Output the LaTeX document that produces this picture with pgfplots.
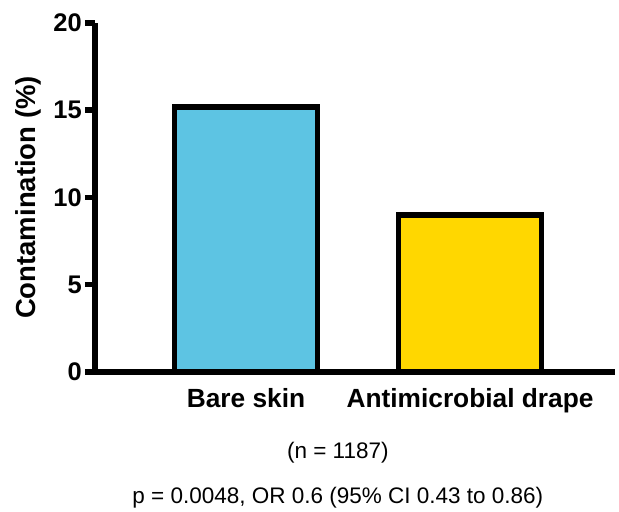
\documentclass[border=0pt]{standalone}
\usepackage{fontspec}
\setmainfont{Liberation Sans}
\usepackage{pgfplots}
\pgfplotsset{compat=1.18}
\definecolor{skinblue}{RGB}{93,196,227}
\definecolor{drapeyellow}{RGB}{255,215,0}
\begin{document}
\begin{tikzpicture}
\begin{axis}[
  scale only axis,
  width=520pt, height=349pt,
  xmin=-0.674, xmax=1.647,
  ymin=0, ymax=20,
  clip=false,
  ytick={0,5,10,15,20},
  xtick={0,1},
  xticklabels={Bare skin, Antimicrobial drape},
  axis x line=bottom, axis y line=left,
  axis line style={-, line width=6pt, black},
  major tick length=10pt,
  tick align=outside,
  tick style={line width=5.5pt, black},
  x tick style={draw=none},
  /pgf/number format/assume math mode=true,
  yticklabel style={font=\bfseries\fontsize{25.5}{30}\selectfont, inner sep=3pt},
  xticklabel style={font=\bfseries\fontsize{26.3}{30}\selectfont, inner sep=2pt, yshift=-4pt},
  ylabel={Contamination (\%)},
  ylabel style={font=\bfseries\fontsize{27.5}{32}\selectfont,
    at={(axis description cs:-0.129,0.5)}, anchor=center},
  ybar, bar width=143pt, bar shift=0pt,
]
\addplot[fill=skinblue, draw=black, line width=5.5pt] coordinates {(0,15.2)};
\addplot[fill=drapeyellow, draw=black, line width=5.5pt] coordinates {(1,9.0)};
\node[font=\fontsize{22.5}{27}\selectfont] at (axis description cs:0.467,-0.232) {(n = 1187)};
\node[font=\fontsize{22.5}{27}\selectfont] at (axis description cs:0.467,-0.361) {p = 0.0048, OR 0.6 (95\% CI 0.43 to 0.86)};
\coordinate (O) at (rel axis cs:0,0);
\end{axis}
\path (O) ++(-95pt,-137pt) rectangle ++(619pt,509pt);
\end{tikzpicture}
\end{document}
